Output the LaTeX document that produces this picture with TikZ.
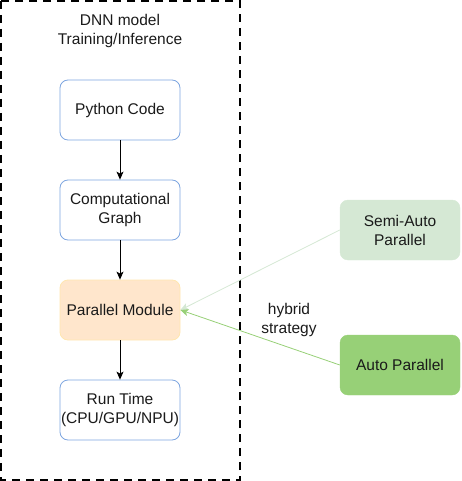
\documentclass[tikz,border=0pt]{standalone}
\usepackage{fontspec}
\setmainfont{Liberation Sans}
\usetikzlibrary{arrows.meta}
\definecolor{bluebd}{HTML}{7EA6E0}
\definecolor{orfill}{HTML}{FFE6CC}
\definecolor{orbd}{HTML}{FFE6B0}
\definecolor{semifill}{HTML}{D5E8D4}
\definecolor{autofill}{HTML}{97D077}
\definecolor{txt}{HTML}{1A1A1A}
\tikzset{
  lbl/.style={font=\fontsize{15.5}{19}\selectfont, text=txt, align=center, inner sep=0pt},
  box/.style={lbl, rounded corners=8pt, minimum width=120pt, minimum height=60pt},
  bluebox/.style={box, draw=bluebd, line width=0.8pt, fill=white},
  flow/.style={-{Stealth[length=8pt,width=7pt,inset=2pt]}, line width=0.8pt, black},
}
\begin{document}
\begin{tikzpicture}[x=1pt,y=-1pt]
\useasboundingbox (0,0) rectangle (461,481);
\draw[line width=1.5pt, dash pattern=on 8pt off 6pt] (1,1) rectangle (240,480);
\node[lbl] (title) at (120,31) {DNN model\\Training/Inference};
\node[bluebox] (py) at (120,110) {Python Code};
\node[bluebox] (cg) at (120,210) {Computational\\Graph};
\node[box, draw=orbd, line width=0.8pt, fill=orfill] (pm) at (120,310) {Parallel Module};
\node[bluebox] (rt) at (120,410) {Run Time\\(CPU/GPU/NPU)};
\node[box, draw=semifill, fill=semifill] (semi) at (400,230) {Semi-Auto\\Parallel};
\node[box, draw=autofill, fill=autofill] (auto) at (400,365) {Auto Parallel};
\draw[flow] (py) -- (cg);
\draw[flow] (cg) -- (pm);
\draw[flow] (pm) -- (rt);
\draw[flow, semifill] (semi.west) -- (pm.east);
\draw[flow, autofill] (auto.west) -- (pm.east);
\node[lbl] (hy) at (289,320) {hybrid\\strategy};
\end{tikzpicture}
\end{document}
